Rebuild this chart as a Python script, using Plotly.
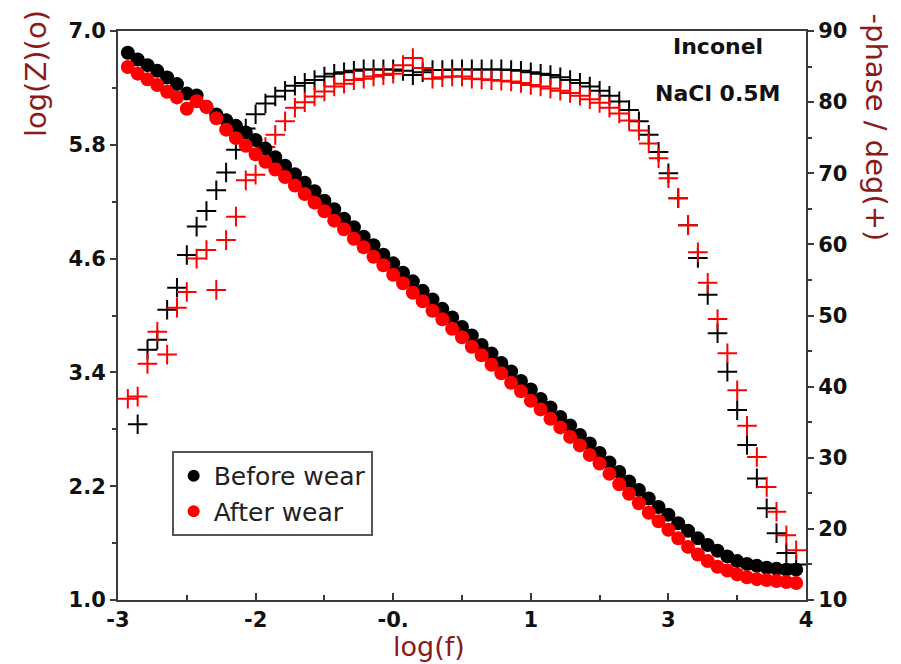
import plotly.graph_objects as go

# log(f) grid (decades)
log_f = [-2.9, -2.8, -2.7, -2.6, -2.5, -2.4, -2.3, -2.2, -2.1, -2.0,
         -1.9, -1.8, -1.7, -1.6, -1.5, -1.4, -1.3, -1.2, -1.1, -1.0,
         -0.9, -0.8, -0.7, -0.6, -0.5, -0.4, -0.3, -0.2, -0.1, 0.0,
         0.1, 0.2, 0.3, 0.4, 0.5, 0.6, 0.7, 0.8, 0.9, 1.0,
         1.1, 1.2, 1.3, 1.4, 1.5, 1.6, 1.7, 1.8, 1.9, 2.0,
         2.1, 2.2, 2.3, 2.4, 2.5, 2.6, 2.7, 2.8, 2.9, 3.0,
         3.1, 3.2, 3.3, 3.4, 3.5, 3.6, 3.7, 3.8, 3.9]

logz_before = [6.77, 6.70, 6.64, 6.58, 6.51, 6.44, 6.34, 6.32, 6.20, 6.12,
               6.06, 6.00, 5.93, 5.85, 5.76, 5.67, 5.58, 5.49, 5.40, 5.31,
               5.21, 5.12, 5.02, 4.93, 4.83, 4.74, 4.64, 4.55, 4.45, 4.36,
               4.26, 4.17, 4.07, 3.98, 3.88, 3.79, 3.69, 3.60, 3.50, 3.41,
               3.31, 3.22, 3.12, 3.03, 2.93, 2.84, 2.74, 2.65, 2.55, 2.45,
               2.35, 2.25, 2.16, 2.07, 1.98, 1.90, 1.81, 1.73, 1.65, 1.58,
               1.52, 1.46, 1.41, 1.38, 1.36, 1.34, 1.33, 1.32, 1.32]

logz_after = [6.62, 6.55, 6.49, 6.43, 6.36, 6.30, 6.18, 6.26, 6.20, 6.08,
              5.96, 5.87, 5.79, 5.70, 5.62, 5.54, 5.46, 5.37, 5.28, 5.19,
              5.10, 5.00, 4.91, 4.81, 4.72, 4.62, 4.53, 4.43, 4.34, 4.24,
              4.15, 4.05, 3.96, 3.86, 3.77, 3.67, 3.58, 3.48, 3.39, 3.29,
              3.20, 3.10, 3.01, 2.91, 2.82, 2.72, 2.63, 2.53, 2.44, 2.33,
              2.22, 2.12, 2.02, 1.92, 1.83, 1.74, 1.65, 1.56, 1.48, 1.41,
              1.35, 1.31, 1.27, 1.24, 1.22, 1.21, 1.20, 1.19, 1.18]

phase_before = [None, 34.7, 45.2, 46.6, 50.8, 53.9, 58.5, 62.5, 64.7, 67.6,
                70.1, 73.3, 76.3, 78.3, 79.8, 80.8, 81.6, 82.3, 82.7, 83.1,
                83.6, 84.0, 84.2, 84.4, 84.6, 84.6, 84.6, 84.6, 84.4, 83.8,
                84.2, 84.5, 84.5, 84.6, 84.6, 84.6, 84.6, 84.6, 84.6, 84.5,
                84.4, 84.2, 84.0, 83.8, 83.5, 83.1, 82.7, 82.2, 81.6, 80.9,
                80.1, 78.9, 77.3, 75.4, 73.0, 70.0, 66.5, 62.7, 58.1, 52.9,
                47.5, 42.1, 36.7, 31.8, 27.1, 22.9, 19.4, 16.6, 15.0]

phase_after = [38.3, 38.6, 43.2, 47.7, 44.5, 51.1, 53.3, 58.0, 59.2, 53.6,
               60.6, 63.9, 69.0, 69.8, 73.7, 75.4, 77.3, 79.2, 80.0, 80.8,
               81.5, 82.2, 82.6, 83.1, 83.3, 83.6, 83.8, 84.0, 85.2, 86.2,
               84.8, 83.3, 83.5, 83.6, 83.6, 83.3, 83.2, 83.1, 83.0, 82.9,
               82.7, 82.4, 82.2, 81.9, 81.6, 81.3, 80.9, 80.4, 79.9, 79.2,
               78.4, 77.4, 76.0, 74.2, 72.1, 69.3, 66.5, 62.7, 58.9, 54.6,
               49.5, 44.7, 39.5, 34.5, 30.1, 25.9, 22.4, 19.1, 17.0]

x_tickvals = [-3, -1.6, -0.2, 1.2, 2.6, 4]
x_ticktext = ["-3", "-2", "-0.", "1", "3", "4"]
x_minor = [-2.3, -0.9, 0.5, 1.9, 3.3]

BLACK = "#000000"
RED = "#ff0000"
TITLE_RED = "#8b1a1a"
AXIS = "#3a3a3a"
FONT = "DejaVu Sans"

fig = go.Figure()

# phase (crosses) on primary y (right side)
fig.add_trace(go.Scatter(x=log_f, y=phase_before, mode="markers", yaxis="y",
                         marker=dict(symbol="cross-thin", size=14,
                                     line=dict(color=BLACK, width=2)),
                         showlegend=False))
fig.add_trace(go.Scatter(x=log_f, y=phase_after, mode="markers", yaxis="y",
                         marker=dict(symbol="cross-thin", size=14,
                                     line=dict(color=RED, width=2)),
                         showlegend=False))
# log|Z| (circles) on left axis
fig.add_trace(go.Scatter(x=log_f, y=logz_before, mode="markers", yaxis="y2",
                         name="Before wear",
                         marker=dict(symbol="circle", size=14, color=BLACK)))
fig.add_trace(go.Scatter(x=log_f, y=logz_after, mode="markers", yaxis="y2",
                         name="After wear",
                         marker=dict(symbol="circle", size=14, color=RED)))

tickfont = dict(family=FONT, size=21, color="#111", weight="bold")

fig.update_layout(
    width=901, height=664,
    margin=dict(l=118, r=95, t=31, b=64),
    paper_bgcolor="white", plot_bgcolor="white",
    xaxis=dict(range=[-3, 4], tickmode="array", tickvals=x_tickvals,
               ticktext=x_ticktext, ticks="inside", ticklen=7, tickwidth=2,
               tickcolor=AXIS, showline=True, linecolor=AXIS, linewidth=2,
               mirror=True, showgrid=False, zeroline=False, tickfont=tickfont,
               minor=dict(tickmode="array", tickvals=x_minor, ticks="inside",
                          ticklen=5, tickwidth=2, tickcolor=AXIS)),
    yaxis=dict(range=[10, 90], side="right", tick0=10, dtick=10,
               ticks="outside", ticklen=6, tickwidth=2, tickcolor=AXIS,
               showline=True, linecolor=AXIS, linewidth=2, showgrid=False,
               zeroline=False, tickfont=tickfont,
               minor=dict(dtick=5, tick0=10, ticks="outside", ticklen=4,
                          tickwidth=1.5, tickcolor=AXIS)),
    yaxis2=dict(range=[1.0, 7.0], side="left", overlaying="y", tick0=1.0,
                dtick=1.2, tickformat=".1f", ticks="outside", ticklen=6,
                tickwidth=2, tickcolor=AXIS, showline=True, linecolor=AXIS,
                linewidth=2, showgrid=False, zeroline=False, tickfont=tickfont,
                minor=dict(dtick=0.6, tick0=1.0, ticks="outside", ticklen=4,
                           tickwidth=1.5, tickcolor=AXIS)),
    legend=dict(x=0.078, y=0.262, xanchor="left", yanchor="top",
                bgcolor="white", bordercolor="#555", borderwidth=2,
                font=dict(family=FONT, size=25, color="#222"),
                itemsizing="constant", tracegroupgap=0),
    annotations=[
        dict(text="log(Z)(o)", xref="paper", yref="paper", x=-0.12, y=0.925,
             xanchor="center", yanchor="middle", textangle=-90,
             showarrow=False,
             font=dict(family=FONT, size=29, color=TITLE_RED)),
        dict(text="-phase / deg(+)", xref="paper", yref="paper", x=1.102,
             y=0.83, xanchor="center", yanchor="middle", textangle=90,
             showarrow=False,
             font=dict(family=FONT, size=29, color=TITLE_RED)),
        dict(text="log(f)", xref="paper", yref="paper", x=0.452, y=-0.082,
             xanchor="center", yanchor="middle", showarrow=False,
             font=dict(family=FONT, size=27, color=TITLE_RED)),
        dict(text="Inconel", xref="paper", yref="paper", x=0.872, y=0.972,
             xanchor="center", yanchor="middle", showarrow=False,
             font=dict(family=FONT, size=22, color="#111", weight="bold")),
        dict(text="NaCl 0.5M", xref="paper", yref="paper", x=0.872, y=0.891,
             xanchor="center", yanchor="middle", showarrow=False,
             font=dict(family=FONT, size=22, color="#111", weight="bold")),
    ],
)

fig.write_html("out.html")
